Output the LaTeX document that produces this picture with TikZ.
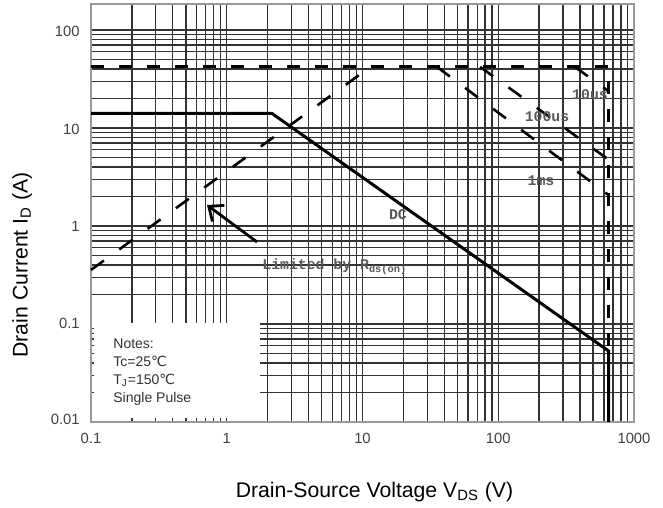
\documentclass[tikz,border=0pt]{standalone}
\usepackage{fontspec}
\setmainfont{Liberation Sans}
\newfontfamily\monofont{Liberation Mono}
\newfontfamily\symfont{DejaVu Sans}
\usetikzlibrary{arrows.meta}

\begin{document}
\begin{tikzpicture}[x=67.875pt, y=49pt]
    \def\xmin{-1}
    \def\xmax{3}
    \def\ymin{-2}
    \def\ymax{2.265}
    \def\vbd{2.8129}
    \tikzstyle{frame}=[draw=black!40, line width=1pt]
    \tikzstyle{gridline}=[draw=black!80, line width=0.7pt]
    \tikzstyle{ticklabel}=[text=black!75, font=\fontsize{7.4}{9}\selectfont, inner sep=0pt]
    \tikzstyle{axislabel}=[font=\fontsize{10.6}{12}\selectfont, inner sep=0pt]
    \tikzstyle{curvelabel}=[text=black!65, font=\monofont\bfseries\fontsize{7.4}{9}\selectfont, inner sep=0pt]
    \tikzstyle{notes}=[text=black!80, font=\fontsize{7}{9}\selectfont, align=left, inner sep=0pt]

    \useasboundingbox (-1.6704,-2.8776) rectangle (3.2137,2.3061);

    % log grid
    \foreach \d in {-1,0,1,2}
      \foreach \m in {1,...,9}
        \draw[gridline] ({\d+log10(\m)},\ymin) -- ({\d+log10(\m)},\ymax);
    \foreach \d in {-2,-1,0,1}
      \foreach \m in {1,...,9}
        \draw[gridline] (\xmin,{\d+log10(\m)}) -- (\xmax,{\d+log10(\m)});
    \draw[gridline] (\xmin,2) -- (\xmax,2);

    % notes corner
    \fill[white] (\xmin,\ymin) rectangle (0.245,-0.985);
    \foreach \m in {2,...,9}
      \draw[gridline] (\xmin,{-2+log10(\m)}) -- ++(0.02,0);
    \foreach \m in {2,...,10}
      \draw[gridline] ({-1+log10(\m)},\ymin) -- ++(0,0.04);
    \draw[frame] (\xmin,\ymin) rectangle (\xmax,\ymax);

    \node[ticklabel] (xl01) at (-1,-2.163) {0.1};
    \node[ticklabel] (xl1) at (0,-2.163) {1};
    \node[ticklabel] (xl10) at (1,-2.163) {10};
    \node[ticklabel] (xl100) at (2,-2.163) {100};
    \node[ticklabel] (xl1000) at (3,-2.163) {1000};
    \node[ticklabel, anchor=east] (yl001) at (-1.081,-1.97) {0.01};
    \node[ticklabel, anchor=east] (yl01) at (-1.081,-0.99) {0.1};
    \node[ticklabel, anchor=east] (yl1) at (-1.081,0) {1};
    \node[ticklabel, anchor=east] (yl10) at (-1.081,0.99) {10};
    \node[ticklabel, anchor=east] (yl100) at (-1.081,1.99) {100};

    \node[axislabel] (xtitle) at (1.088,-2.714) {Drain-Source Voltage V\textsubscript{DS} (V)};
    \node[axislabel, rotate=90] (ytitle) at (-1.508,-0.398) {Drain Current I\textsubscript{D} (A)};

    \node[notes, anchor=west] (notes) at (-0.838,-1.49)
      {Notes:\\Tc=25{\symfont ℃}\\T\textsubscript{J}=150{\symfont ℃}\\Single Pulse};

    % SOA curves
    \tikzstyle{soa} = [draw=black, line width=1.5pt]
    \tikzstyle{pulse} = [draw=black, line width=1.5pt, dash pattern=on 6.5pt off 7.5pt]
    \tikzstyle{pulsediag} = [draw=black, line width=1.3pt, dash pattern=on 8pt off 9.5pt]
    \tikzstyle{pointer} = [draw=black, line width=1.4pt, -{Straight Barb[length=6pt, width=10pt]}]

    \coordinate (dcstart) at (\xmin,1.1492);
    \coordinate (dcknee) at (0.3324,1.1492);
    \coordinate (dcend) at (\vbd,-1.2757);
    \coordinate (dcfoot) at (\vbd,\ymin);
    \coordinate (pkstart) at (\xmin,1.6232);
    \coordinate (pkend) at (\vbd,1.6232);
    \coordinate (rdsstart) at (\xmin,-0.4486);
    \coordinate (rdsend) at (1.0569,1.6232);
    \coordinate (us10a) at (2.5647,1.6232);
    \coordinate (us10b) at (\vbd,1.3747);
    \coordinate (us100a) at (1.8663,1.6232);
    \coordinate (us100b) at (\vbd,0.6767);
    \coordinate (ms1a) at (1.5490,1.6232);
    \coordinate (ms1b) at (\vbd,0.3160);
    \coordinate (arrowtail) at (0.2228,-0.163);
    \coordinate (arrowtip) at (-0.1455,0.214);

          \draw [soa] (dcstart) -- (dcknee) -- (dcend) -- (dcfoot);
          \draw [pulse] (pkstart) -- (pkend) -- (dcend);
          \draw [pulsediag] (rdsstart) -- (rdsend);
          \draw [pulsediag] (us10a) -- (us10b);
          \draw [pulsediag] (us100a) -- (us100b);
          \draw [pulsediag] (ms1a) -- (ms1b);
          \draw [pointer] (arrowtail) -- (arrowtip);

    \node[curvelabel] (dclabel) at (1.2615,0.112) {DC};
    \node[curvelabel] (us10label) at (2.676,1.337) {10us};
    \node[curvelabel] (us100label) at (2.3595,1.112) {100us};
    \node[curvelabel] (ms1label) at (2.315,0.459) {1ms};
    \node[curvelabel, anchor=west] (rdslabel) at (0.26,-0.418) {Limited by R\textsubscript{ds(on)}};
\end{tikzpicture}
\end{document}
